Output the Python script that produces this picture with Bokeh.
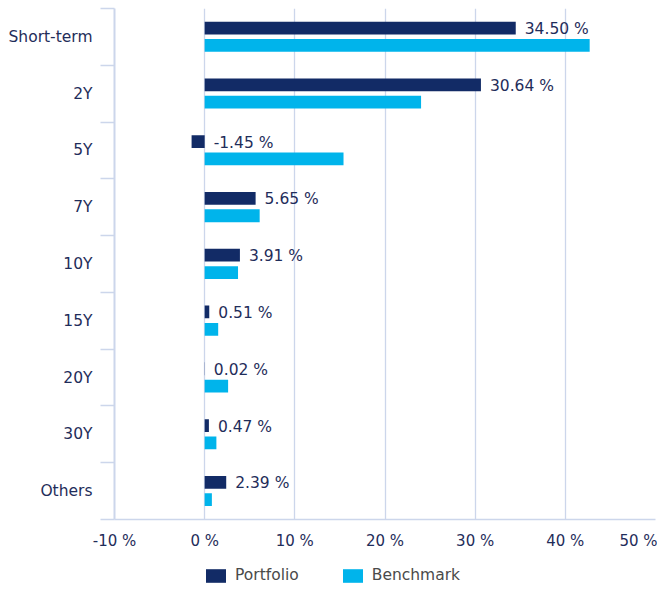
from bokeh.plotting import figure
from bokeh.layouts import column
from bokeh.models import ColumnDataSource, Range1d, FixedTicker, Legend, LegendItem
from bokeh.transform import dodge
from bokeh.embed import file_html
from bokeh.resources import INLINE
from bokeh.core.properties import value

categories = ["Short-term", "2Y", "5Y", "7Y", "10Y", "15Y", "20Y", "30Y", "Others"]
portfolio = [34.50, 30.64, -1.45, 5.65, 3.91, 0.51, 0.02, 0.47, 2.39]
benchmark = [42.7, 24.0, 15.4, 6.1, 3.7, 1.5, 2.6, 1.3, 0.8]
x_ticks = [-10, 0, 10, 20, 30, 40, 50]
series_names = ["Portfolio", "Benchmark"]

NAVY = "#122b66"
CYAN = "#00b4eb"
AXIS = "#ccd6eb"
TEXT = "#1f2d5a"
FONT = "DejaVu Sans"

pos = list(range(len(categories)))
src = ColumnDataSource(dict(
    y=pos,
    portfolio=portfolio,
    benchmark=benchmark,
    label_x=[max(v, 0) for v in portfolio],
    label=[f"{v:.2f} %" for v in portfolio],
))

p = figure(width=657, height=552, output_backend="svg", toolbar_location=None,
           x_range=Range1d(x_ticks[0], x_ticks[-1]),
           y_range=Range1d(len(categories) - 0.5, -0.5),
           min_border_left=114, min_border_right=2, min_border_top=8,
           min_border_bottom=33)
p.outline_line_color = None

r1 = p.hbar(y=dodge("y", -0.155), left=0, right="portfolio", height=0.225,
            fill_color=NAVY, line_color=None, source=src)
r2 = p.hbar(y=dodge("y", 0.15), left=0, right="benchmark", height=0.225,
            fill_color=CYAN, line_color=None, source=src)

p.text(x="label_x", y=dodge("y", -0.155), text="label", source=src,
       x_offset=9, y_offset=1, text_baseline="middle", text_align="left",
       text_font=value(FONT), text_font_size="15.5px", text_color=TEXT)

# y axis: category labels at centres, boundary ticks between categories
p.yaxis.ticker = FixedTicker(ticks=pos, minor_ticks=[i - 0.5 for i in range(len(categories) + 1)])
p.yaxis.major_label_overrides = {i: c for i, c in zip(pos, categories)}
p.yaxis.major_tick_out = 0
p.yaxis.major_tick_in = 0
p.yaxis.minor_tick_out = 14
p.yaxis.minor_tick_in = 0
p.yaxis.minor_tick_line_color = AXIS
p.yaxis.minor_tick_line_width = 1.5
p.yaxis.axis_line_color = AXIS
p.yaxis.axis_line_width = 2
p.yaxis.major_label_standoff = 8
p.yaxis.major_label_text_font = FONT
p.yaxis.major_label_text_font_size = "15.5px"
p.yaxis.major_label_text_color = TEXT
p.ygrid.grid_line_color = None

# x axis
p.xaxis.ticker = FixedTicker(ticks=x_ticks)
p.xaxis.major_label_overrides = {t: f"{t} %" for t in x_ticks}
p.xaxis.major_tick_out = 0
p.xaxis.major_tick_in = 0
p.xaxis.minor_tick_line_color = None
p.xaxis.axis_line_color = AXIS
p.xaxis.axis_line_width = 1.5
p.xaxis.major_label_standoff = 12
p.xaxis.major_label_text_font = FONT
p.xaxis.major_label_text_font_size = "15px"
p.xaxis.major_label_text_color = TEXT
p.xgrid.ticker = FixedTicker(ticks=x_ticks)
p.xgrid.grid_line_color = AXIS
p.xgrid.grid_line_width = 1.3

# legend strip (same series, drawn outside its visible range; only the legend shows)
lg = figure(width=657, height=38, output_backend="svg", toolbar_location=None,
            x_range=Range1d(1000, 1001), y_range=Range1d(1000, 1001),
            min_border_left=0, min_border_right=0, min_border_top=0,
            min_border_bottom=0)
lg.axis.visible = False
lg.grid.grid_line_color = None
lg.outline_line_color = None
l1 = lg.hbar(y="y", left=0, right="portfolio", height=0.225, fill_color=NAVY,
             line_color=None, source=src)
l2 = lg.hbar(y="y", left=0, right="benchmark", height=0.225, fill_color=CYAN,
             line_color=None, source=src)
legend = Legend(items=[LegendItem(label=series_names[0], renderers=[l1]),
                       LegendItem(label=series_names[1], renderers=[l2])],
                orientation="horizontal", location=(89, 6),
                glyph_width=25, glyph_height=17, label_standoff=7, spacing=41,
                padding=0, margin=0, border_line_color=None,
                background_fill_alpha=0,
                label_text_font=FONT, label_text_font_size="15.5px",
                label_text_color="#4a4a4a")
lg.add_layout(legend, "center")

layout = column(p, lg, spacing=0)
open("out.html", "w").write(file_html(layout, INLINE))
